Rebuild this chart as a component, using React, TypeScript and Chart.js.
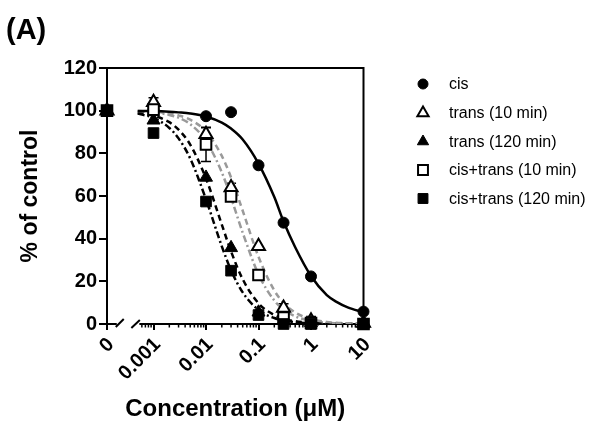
import React, { useEffect, useRef } from 'react';
import { Chart, registerables } from 'chart.js';

Chart.register(...registerables);

// ---- data (concentrations in µM, response in % of control) ----
const CONC = [0, 0.001, 0.01, 0.03, 0.1, 0.3, 1, 10];
const CIS = [100, 100, 97.4, 99.3, 74.4, 47.5, 22.3, 5.8];
const TRANS_10 = [100, 104, 89, 64, 36.4, 7.5, 1.5, 0.5];
const TRANS_120 = [100, 95.5, 68.7, 35.7, 5.5, 1.5, 0.5, 0];
const CISTRANS_10 = [100, 100.5, 84.2, 59.8, 23, 3, 0.5, 0];
const CISTRANS_120 = [100, 89.5, 57.4, 25, 4.2, 0, 0, 0];

const ERR_TRANS_10 = [0, 2, 3, 2, 0, 2, 2, 0];
const ERR_CISTRANS_10 = [0, 0, 8, 0, 0, 0, 0, 0];

// fitted curves
const FIT_CONC = [0.0005, 0.001, 0.002, 0.003, 0.005, 0.01, 0.02, 0.03, 0.05, 0.1, 0.2, 0.3, 0.5, 1, 2, 3, 5, 10];
const FIT_CIS = [99.9, 99.8, 99.5, 99.2, 98.7, 97.3, 94.4, 91.6, 86.5, 75.2, 59.5, 48, 36, 22.5, 13.5, 10.5, 7.8, 5.5];
const FIT_TRANS_10 = [99.8, 99.5, 98.7, 97.8, 95.8, 90.2, 78.8, 68.7, 53.1, 31.5, 15.7, 9.9, 5.4, 2.3, 1, 0.6, 0.3, 0.1];
const FIT_TRANS_120 = [99.1, 97.7, 94.6, 91.1, 84.1, 68.2, 46.6, 34, 21, 9.7, 4.2, 2.5, 1.3, 0.5, 0.2, 0.12, 0.06, 0.03];
const FIT_CISTRANS_10 = [99.7, 99.2, 98, 96.7, 93.7, 85.8, 71.1, 59.2, 42.8, 23.3, 11, 6.8, 3.6, 1.5, 0.6, 0.36, 0.19, 0.08];
const FIT_CISTRANS_120 = [98.6, 96.6, 91.9, 87, 77.6, 58.4, 36.4, 25.2, 14.8, 6.6, 2.8, 1.7, 0.86, 0.35, 0.14, 0.08, 0.04, 0.02];

const X_TICK_VALUES = [0, 0.001, 0.01, 0.1, 1, 10];
const X_TICK_LABELS = ['0', '0.001', '0.01', '0.1', '1', '10'];
const Y_MIN = 0;
const Y_MAX = 120;
const Y_STEP = 20;

const SERIES_LABELS = ['cis', 'trans (10 min)', 'trans (120 min)', 'cis+trans (10 min)', 'cis+trans (120 min)'];

// ---- axis helpers (log axis with a broken segment holding "0") ----
const ZERO_POS = -3.886;
const X_MAX = 1;
const BREAK_START = -3.7;
const BREAK_END = -3.27;
const toAxis = (c: number) => (c === 0 ? ZERO_POS : Math.log10(c));

const FONT = '"Liberation Sans", Arial, Helvetica, sans-serif';
const GREY = '#9a9a9a';

type Marker = { style: string; filled: boolean };
const MARKERS: Marker[] = [
  { style: 'circle', filled: true },
  { style: 'triangle', filled: false },
  { style: 'triangle', filled: true },
  { style: 'rect', filled: false },
  { style: 'rect', filled: true },
];
const MARKER_RADIUS: Record<string, number> = { circle: 5.5, triangle: 7.5, rect: 7.5 };

function drawMarker(ctx: CanvasRenderingContext2D, m: Marker, x: number, y: number, r: number) {
  ctx.beginPath();
  if (m.style === 'circle') {
    ctx.arc(x, y, r, 0, Math.PI * 2);
  } else if (m.style === 'triangle') {
    ctx.moveTo(x, y - r);
    ctx.lineTo(x + r * 0.866, y + r * 0.5);
    ctx.lineTo(x - r * 0.866, y + r * 0.5);
    ctx.closePath();
  } else {
    const s = r * Math.SQRT1_2;
    ctx.rect(x - s, y - s, 2 * s, 2 * s);
  }
  ctx.fillStyle = m.filled ? '#000' : '#fff';
  ctx.fill();
  ctx.lineWidth = m.filled ? 1 : 2;
  ctx.strokeStyle = '#000';
  ctx.stroke();
}

export default function App() {
  const ref = useRef<HTMLCanvasElement | null>(null);

  useEffect(() => {
    const canvas = ref.current;
    if (!canvas) return;

    const values = [CIS, TRANS_10, TRANS_120, CISTRANS_10, CISTRANS_120];
    const errors = [null, ERR_TRANS_10, null, ERR_CISTRANS_10, null];
    const fits = [FIT_CIS, FIT_TRANS_10, FIT_TRANS_120, FIT_CISTRANS_10, FIT_CISTRANS_120];
    const fitColors = ['#000', GREY, '#000', GREY, '#000'];
    const fitDash = [[], [6, 4], [6, 4], [7, 3, 2, 3], [7, 3, 2, 3]];
    const markerOrder = [4, 3, 2, 1, 0];

    const curveSets = fits.map((f, i) => ({
      label: SERIES_LABELS[i] + ' fit',
      data: FIT_CONC.map((c, k) => ({ x: toAxis(c), y: f[k] })),
      showLine: true,
      pointRadius: 0,
      borderColor: fitColors[i],
      borderWidth: 2.5,
      borderDash: fitDash[i],
      cubicInterpolationMode: 'monotone',
      order: 10,
    }));

    const markerSets = values.map((v, i) => ({
      label: SERIES_LABELS[i],
      data: CONC.map((c, k) => ({ x: toAxis(c), y: v[k] })),
      showLine: false,
      pointStyle: MARKERS[i].style,
      pointRadius: MARKER_RADIUS[MARKERS[i].style],
      pointBackgroundColor: MARKERS[i].filled ? '#000' : '#fff',
      pointBorderColor: '#000',
      pointBorderWidth: MARKERS[i].filled ? 1 : 2,
      clip: false,
      order: markerOrder[i],
    }));

    const errorBarPlugin = {
      id: 'errorBars',
      beforeDatasetsDraw(chart: any) {
        const { ctx, scales } = chart;
        ctx.save();
        ctx.strokeStyle = '#000';
        ctx.lineWidth = 1.5;
        errors.forEach((err, i) => {
          if (!err) return;
          CONC.forEach((c, k) => {
            if (!err[k]) return;
            const px = scales.x.getPixelForValue(toAxis(c));
            const top = scales.y.getPixelForValue(values[i][k] + err[k]);
            const bot = scales.y.getPixelForValue(values[i][k] - err[k]);
            ctx.beginPath();
            ctx.moveTo(px, top);
            ctx.lineTo(px, bot);
            ctx.moveTo(px - 5, top);
            ctx.lineTo(px + 5, top);
            ctx.moveTo(px - 5, bot);
            ctx.lineTo(px + 5, bot);
            ctx.stroke();
          });
        });
        ctx.restore();
      },
    };

    const framePlugin = {
      id: 'frame',
      afterDraw(chart: any) {
        const { ctx, chartArea: a, scales } = chart;
        const xs = scales.x;
        ctx.save();
        ctx.strokeStyle = '#000';
        ctx.lineWidth = 2;
        // top and right border of the box
        ctx.beginPath();
        ctx.moveTo(a.left - 1, a.top);
        ctx.lineTo(a.right, a.top);
        ctx.lineTo(a.right, a.bottom);
        ctx.stroke();

        // minor log ticks
        ctx.lineWidth = 1.5;
        ctx.beginPath();
        for (let d = -4; d < X_MAX; d++) {
          for (let m = 2; m <= 9; m++) {
            const u = d + Math.log10(m);
            if (u < BREAK_END || u > X_MAX) continue;
            const px = xs.getPixelForValue(u);
            ctx.moveTo(px, a.bottom);
            ctx.lineTo(px, a.bottom + 3.5);
          }
        }
        ctx.stroke();

        // axis break
        const p1 = xs.getPixelForValue(BREAK_START);
        const p2 = xs.getPixelForValue(BREAK_END);
        ctx.fillStyle = '#fff';
        ctx.fillRect(p1, a.bottom - 2, p2 - p1, 4);
        ctx.lineWidth = 2;
        ctx.beginPath();
        ctx.moveTo(p1 - 1, a.bottom + 3);
        ctx.lineTo(p1 + 7, a.bottom - 5);
        ctx.moveTo(p2 - 8, a.bottom + 4);
        ctx.lineTo(p2 + 0.5, a.bottom - 4);
        ctx.stroke();

        // panel letter
        ctx.fillStyle = '#000';
        ctx.font = 'bold 29px ' + FONT;
        ctx.textAlign = 'left';
        ctx.textBaseline = 'alphabetic';
        ctx.fillText('(A)', 6, 39);

        // legend
        const legendX = 423;
        const textX = 449;
        const rowsY = [84, 113, 141.5, 170, 198.5];
        const legendR: Record<string, number> = { circle: 5, triangle: 6.5, rect: 7 };
        ctx.font = '16px ' + FONT;
        ctx.textBaseline = 'middle';
        SERIES_LABELS.forEach((lab, i) => {
          drawMarker(ctx, MARKERS[i], legendX, rowsY[i], legendR[MARKERS[i].style]);
          ctx.fillStyle = '#000';
          ctx.fillText(lab, textX, rowsY[i] + 1);
        });
        ctx.restore();
      },
    };

    const chart = new Chart(canvas, {
      type: 'scatter',
      data: { datasets: [...markerSets, ...curveSets] as any },
      options: {
        animation: false,
        responsive: false,
        events: [],
        layout: { padding: { left: 0, top: 68, right: 243.5, bottom: 0 } },
        plugins: { legend: { display: false }, tooltip: { enabled: false }, title: { display: false } },
        scales: {
          x: {
            type: 'linear',
            min: ZERO_POS,
            max: X_MAX,
            afterFit: (s: any) => {
              s.height = 99;
            },
            afterBuildTicks: (s: any) => {
              s.ticks = X_TICK_VALUES.map((c) => ({ value: toAxis(c) }));
            },
            ticks: {
              autoSkip: false,
              maxRotation: 45,
              minRotation: 45,
              padding: 3,
              labelOffset: 4,
              color: '#000',
              font: { family: FONT, size: 20, weight: 'bold' },
              callback: (v: any) => {
                const idx = X_TICK_VALUES.findIndex((c) => Math.abs(toAxis(c) - Number(v)) < 1e-6);
                return idx >= 0 ? X_TICK_LABELS[idx] : '';
              },
            },
            grid: { display: true, drawOnChartArea: false, drawTicks: true, tickLength: 6, color: '#000', lineWidth: 2 },
            border: { display: true, color: '#000', width: 2 },
            title: {
              display: true,
              text: 'Concentration (μM)',
              color: '#000',
              font: { family: FONT, size: 24, weight: 'bold' },
              padding: { top: 0, bottom: -1 },
            },
          },
          y: {
            type: 'linear',
            min: Y_MIN,
            max: Y_MAX,
            afterFit: (s: any) => {
              s.width = 107;
            },
            ticks: {
              stepSize: Y_STEP,
              padding: 2,
              color: '#000',
              font: { family: FONT, size: 20, weight: 'bold' },
            },
            grid: { display: true, drawOnChartArea: false, drawTicks: true, tickLength: 8, color: '#000', lineWidth: 2 },
            border: { display: true, color: '#000', width: 2 },
            title: {
              display: true,
              text: '% of control',
              color: '#000',
              font: { family: FONT, size: 23, weight: 'bold' },
              padding: { top: 17, bottom: 0 },
            },
          },
        },
      } as any,
      plugins: [errorBarPlugin, framePlugin],
    });

    return () => chart.destroy();
  }, []);

  return (
    <div style={{ position: 'absolute', left: 0, top: 0, width: 607, height: 423, background: '#fff' }}>
      <canvas ref={ref} width={607} height={423} style={{ display: 'block', width: 607, height: 423 }} />
    </div>
  );
}
